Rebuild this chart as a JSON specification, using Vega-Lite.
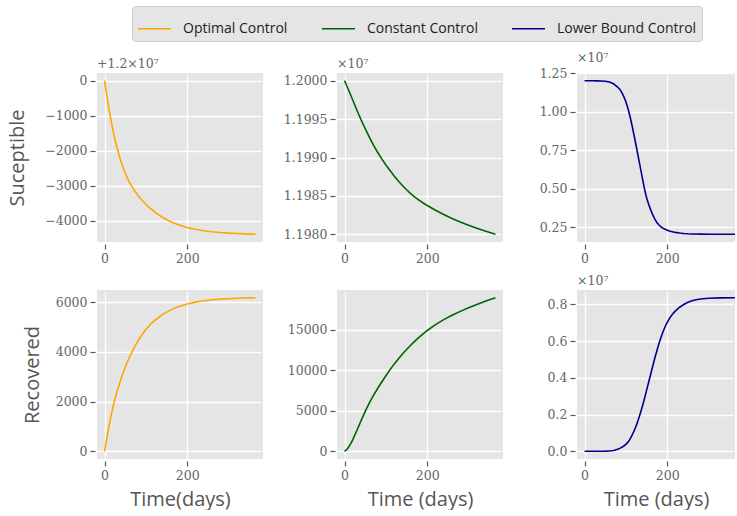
{
  "$schema": "https://vega.github.io/schema/vega-lite/v6.json",
  "padding": {"left": 7, "top": 5, "right": 0, "bottom": 0},
  "data": {"values": [
    {"control": "Optimal Control", "t": 0, "S": 12000000, "R": 0},
    {"control": "Optimal Control", "t": 5, "S": 11999610, "R": 480},
    {"control": "Optimal Control", "t": 10, "S": 11999240, "R": 950},
    {"control": "Optimal Control", "t": 15, "S": 11998910, "R": 1380},
    {"control": "Optimal Control", "t": 20, "S": 11998600, "R": 1750},
    {"control": "Optimal Control", "t": 25, "S": 11998330, "R": 2090},
    {"control": "Optimal Control", "t": 30, "S": 11998090, "R": 2400},
    {"control": "Optimal Control", "t": 40, "S": 11997680, "R": 2920},
    {"control": "Optimal Control", "t": 50, "S": 11997350, "R": 3380},
    {"control": "Optimal Control", "t": 60, "S": 11997100, "R": 3780},
    {"control": "Optimal Control", "t": 70, "S": 11996900, "R": 4120},
    {"control": "Optimal Control", "t": 80, "S": 11996730, "R": 4420},
    {"control": "Optimal Control", "t": 90, "S": 11996590, "R": 4680},
    {"control": "Optimal Control", "t": 100, "S": 11996470, "R": 4900},
    {"control": "Optimal Control", "t": 110, "S": 11996355, "R": 5090},
    {"control": "Optimal Control", "t": 120, "S": 11996255, "R": 5250},
    {"control": "Optimal Control", "t": 140, "S": 11996095, "R": 5500},
    {"control": "Optimal Control", "t": 160, "S": 11995970, "R": 5690},
    {"control": "Optimal Control", "t": 180, "S": 11995875, "R": 5830},
    {"control": "Optimal Control", "t": 200, "S": 11995805, "R": 5925},
    {"control": "Optimal Control", "t": 220, "S": 11995752, "R": 6000},
    {"control": "Optimal Control", "t": 240, "S": 11995712, "R": 6055},
    {"control": "Optimal Control", "t": 260, "S": 11995682, "R": 6095},
    {"control": "Optimal Control", "t": 280, "S": 11995660, "R": 6122},
    {"control": "Optimal Control", "t": 300, "S": 11995644, "R": 6140},
    {"control": "Optimal Control", "t": 320, "S": 11995632, "R": 6158},
    {"control": "Optimal Control", "t": 340, "S": 11995622, "R": 6170},
    {"control": "Optimal Control", "t": 365, "S": 11995612, "R": 6180},
    {"control": "Constant Control", "t": 0, "S": 12000000, "R": 0},
    {"control": "Constant Control", "t": 5, "S": 11999380, "R": 200},
    {"control": "Constant Control", "t": 10, "S": 11998750, "R": 520},
    {"control": "Constant Control", "t": 15, "S": 11998100, "R": 940},
    {"control": "Constant Control", "t": 20, "S": 11997450, "R": 1450},
    {"control": "Constant Control", "t": 25, "S": 11996800, "R": 2020},
    {"control": "Constant Control", "t": 30, "S": 11996150, "R": 2600},
    {"control": "Constant Control", "t": 40, "S": 11994900, "R": 3780},
    {"control": "Constant Control", "t": 50, "S": 11993750, "R": 4930},
    {"control": "Constant Control", "t": 60, "S": 11992650, "R": 5980},
    {"control": "Constant Control", "t": 70, "S": 11991620, "R": 6900},
    {"control": "Constant Control", "t": 80, "S": 11990680, "R": 7750},
    {"control": "Constant Control", "t": 90, "S": 11989820, "R": 8550},
    {"control": "Constant Control", "t": 100, "S": 11989030, "R": 9330},
    {"control": "Constant Control", "t": 110, "S": 11988300, "R": 10080},
    {"control": "Constant Control", "t": 120, "S": 11987600, "R": 10760},
    {"control": "Constant Control", "t": 130, "S": 11986950, "R": 11400},
    {"control": "Constant Control", "t": 140, "S": 11986350, "R": 12000},
    {"control": "Constant Control", "t": 150, "S": 11985800, "R": 12560},
    {"control": "Constant Control", "t": 160, "S": 11985300, "R": 13090},
    {"control": "Constant Control", "t": 170, "S": 11984850, "R": 13590},
    {"control": "Constant Control", "t": 180, "S": 11984440, "R": 14060},
    {"control": "Constant Control", "t": 190, "S": 11984080, "R": 14500},
    {"control": "Constant Control", "t": 200, "S": 11983750, "R": 14910},
    {"control": "Constant Control", "t": 220, "S": 11983130, "R": 15630},
    {"control": "Constant Control", "t": 240, "S": 11982570, "R": 16250},
    {"control": "Constant Control", "t": 260, "S": 11982060, "R": 16790},
    {"control": "Constant Control", "t": 280, "S": 11981600, "R": 17270},
    {"control": "Constant Control", "t": 300, "S": 11981180, "R": 17710},
    {"control": "Constant Control", "t": 320, "S": 11980790, "R": 18120},
    {"control": "Constant Control", "t": 340, "S": 11980430, "R": 18510},
    {"control": "Constant Control", "t": 365, "S": 11980000, "R": 18960},
    {"control": "Lower Bound Control", "t": 0, "S": 12000000, "R": 0},
    {"control": "Lower Bound Control", "t": 10, "S": 11999000, "R": 0},
    {"control": "Lower Bound Control", "t": 20, "S": 11997000, "R": 1000},
    {"control": "Lower Bound Control", "t": 30, "S": 11992000, "R": 2000},
    {"control": "Lower Bound Control", "t": 40, "S": 11983000, "R": 4000},
    {"control": "Lower Bound Control", "t": 50, "S": 11963000, "R": 8000},
    {"control": "Lower Bound Control", "t": 60, "S": 11915000, "R": 18000},
    {"control": "Lower Bound Control", "t": 70, "S": 11800000, "R": 45000},
    {"control": "Lower Bound Control", "t": 80, "S": 11590000, "R": 110000},
    {"control": "Lower Bound Control", "t": 85, "S": 11450000, "R": 160000},
    {"control": "Lower Bound Control", "t": 90, "S": 11240000, "R": 220000},
    {"control": "Lower Bound Control", "t": 95, "S": 10970000, "R": 290000},
    {"control": "Lower Bound Control", "t": 100, "S": 10630000, "R": 380000},
    {"control": "Lower Bound Control", "t": 105, "S": 10200000, "R": 500000},
    {"control": "Lower Bound Control", "t": 110, "S": 9680000, "R": 660000},
    {"control": "Lower Bound Control", "t": 115, "S": 9080000, "R": 880000},
    {"control": "Lower Bound Control", "t": 120, "S": 8430000, "R": 1120000},
    {"control": "Lower Bound Control", "t": 125, "S": 7750000, "R": 1400000},
    {"control": "Lower Bound Control", "t": 130, "S": 7060000, "R": 1720000},
    {"control": "Lower Bound Control", "t": 135, "S": 6360000, "R": 2080000},
    {"control": "Lower Bound Control", "t": 140, "S": 5660000, "R": 2460000},
    {"control": "Lower Bound Control", "t": 145, "S": 4980000, "R": 2880000},
    {"control": "Lower Bound Control", "t": 150, "S": 4400000, "R": 3320000},
    {"control": "Lower Bound Control", "t": 155, "S": 3980000, "R": 3760000},
    {"control": "Lower Bound Control", "t": 160, "S": 3620000, "R": 4200000},
    {"control": "Lower Bound Control", "t": 165, "S": 3300000, "R": 4650000},
    {"control": "Lower Bound Control", "t": 170, "S": 3020000, "R": 5080000},
    {"control": "Lower Bound Control", "t": 175, "S": 2800000, "R": 5480000},
    {"control": "Lower Bound Control", "t": 180, "S": 2640000, "R": 5870000},
    {"control": "Lower Bound Control", "t": 185, "S": 2520000, "R": 6220000},
    {"control": "Lower Bound Control", "t": 190, "S": 2430000, "R": 6530000},
    {"control": "Lower Bound Control", "t": 195, "S": 2360000, "R": 6800000},
    {"control": "Lower Bound Control", "t": 200, "S": 2300000, "R": 7030000},
    {"control": "Lower Bound Control", "t": 205, "S": 2255000, "R": 7220000},
    {"control": "Lower Bound Control", "t": 210, "S": 2215000, "R": 7390000},
    {"control": "Lower Bound Control", "t": 215, "S": 2185000, "R": 7530000},
    {"control": "Lower Bound Control", "t": 220, "S": 2160000, "R": 7650000},
    {"control": "Lower Bound Control", "t": 230, "S": 2120000, "R": 7850000},
    {"control": "Lower Bound Control", "t": 240, "S": 2090000, "R": 8000000},
    {"control": "Lower Bound Control", "t": 250, "S": 2072000, "R": 8120000},
    {"control": "Lower Bound Control", "t": 260, "S": 2060000, "R": 8200000},
    {"control": "Lower Bound Control", "t": 270, "S": 2053000, "R": 8260000},
    {"control": "Lower Bound Control", "t": 280, "S": 2048000, "R": 8300000},
    {"control": "Lower Bound Control", "t": 300, "S": 2042000, "R": 8340000},
    {"control": "Lower Bound Control", "t": 330, "S": 2037000, "R": 8360000},
    {"control": "Lower Bound Control", "t": 365, "S": 2035000, "R": 8370000}
  ]},
  "concat": [
    {
      "width": 166, "height": 169,
      "title": {"text": "+1.2×10⁷"},
      "transform": [{"filter": "datum.control === 'Optimal Control'"}],
      "mark": {"type": "line", "strokeWidth": 1.6},
      "encoding": {
        "x": {"field": "t", "type": "quantitative", "scale": {"domain": [-18.25, 383.25], "nice": false, "zero": false}, "axis": {"values": [0, 200], "title": null}},
        "y": {"field": "S", "type": "quantitative", "scale": {"domain": [11995390, 12000220], "nice": false, "zero": false}, "axis": {"values": [11996000, 11997000, 11998000, 11999000, 12000000], "labelExpr": "format(datum.value - 12000000, 'd')", "title": "Suceptible", "titlePadding": 17}},
        "color": {"field": "control", "type": "nominal", "scale": {"domain": ["Optimal Control", "Constant Control", "Lower Bound Control"], "range": ["#FFA500", "#006400", "#00008B"]}, "legend": {"title": null}}
      }
    },
    {
      "width": 166, "height": 169,
      "title": {"text": "×10⁷"},
      "transform": [{"filter": "datum.control === 'Constant Control'"}],
      "mark": {"type": "line", "strokeWidth": 1.6},
      "encoding": {
        "x": {"field": "t", "type": "quantitative", "scale": {"domain": [-18.25, 383.25], "nice": false, "zero": false}, "axis": {"values": [0, 200], "title": null}},
        "y": {"field": "S", "type": "quantitative", "scale": {"domain": [11979000, 12001000], "nice": false, "zero": false}, "axis": {"values": [11980000, 11985000, 11990000, 11995000, 12000000], "labelExpr": "format(datum.value / 10000000, '.4f')", "title": null}},
        "color": {"field": "control", "type": "nominal", "scale": {"domain": ["Optimal Control", "Constant Control", "Lower Bound Control"], "range": ["#FFA500", "#006400", "#00008B"]}, "legend": {"title": null}}
      }
    },
    {
      "width": 158, "height": 169,
      "title": {"text": "×10⁷"},
      "transform": [{"filter": "datum.control === 'Lower Bound Control'"}],
      "mark": {"type": "line", "strokeWidth": 1.6, "clip": true},
      "encoding": {
        "x": {"field": "t", "type": "quantitative", "scale": {"domain": [-18.25, 363.9], "nice": false, "zero": false}, "axis": {"values": [0, 200], "title": null}},
        "y": {"field": "S", "type": "quantitative", "scale": {"domain": [1536750, 12500000], "nice": false, "zero": false}, "axis": {"values": [2500000, 5000000, 7500000, 10000000, 12500000], "labelExpr": "format(datum.value / 10000000, '.2f')", "title": null}},
        "color": {"field": "control", "type": "nominal", "scale": {"domain": ["Optimal Control", "Constant Control", "Lower Bound Control"], "range": ["#FFA500", "#006400", "#00008B"]}, "legend": {"title": null}}
      }
    },
    {
      "width": 166, "height": 169,
      "transform": [{"filter": "datum.control === 'Optimal Control'"}],
      "mark": {"type": "line", "strokeWidth": 1.6},
      "encoding": {
        "x": {"field": "t", "type": "quantitative", "scale": {"domain": [-18.25, 383.25], "nice": false, "zero": false}, "axis": {"values": [0, 200], "title": "Time(days)", "titlePadding": 8}},
        "y": {"field": "R", "type": "quantitative", "scale": {"domain": [-309, 6489], "nice": false, "zero": false}, "axis": {"values": [0, 2000, 4000, 6000], "format": "d", "title": "Recovered", "titlePadding": 13}},
        "color": {"field": "control", "type": "nominal", "scale": {"domain": ["Optimal Control", "Constant Control", "Lower Bound Control"], "range": ["#FFA500", "#006400", "#00008B"]}, "legend": {"title": null}}
      }
    },
    {
      "width": 166, "height": 169,
      "transform": [{"filter": "datum.control === 'Constant Control'"}],
      "mark": {"type": "line", "strokeWidth": 1.6},
      "encoding": {
        "x": {"field": "t", "type": "quantitative", "scale": {"domain": [-18.25, 383.25], "nice": false, "zero": false}, "axis": {"values": [0, 200], "title": "Time (days)", "titlePadding": 8}},
        "y": {"field": "R", "type": "quantitative", "scale": {"domain": [-948, 19908], "nice": false, "zero": false}, "axis": {"values": [0, 5000, 10000, 15000], "format": "d", "title": null}},
        "color": {"field": "control", "type": "nominal", "scale": {"domain": ["Optimal Control", "Constant Control", "Lower Bound Control"], "range": ["#FFA500", "#006400", "#00008B"]}, "legend": {"title": null}}
      }
    },
    {
      "width": 158, "height": 169,
      "title": {"text": "×10⁷"},
      "transform": [{"filter": "datum.control === 'Lower Bound Control'"}],
      "mark": {"type": "line", "strokeWidth": 1.6, "clip": true},
      "encoding": {
        "x": {"field": "t", "type": "quantitative", "scale": {"domain": [-18.25, 363.9], "nice": false, "zero": false}, "axis": {"values": [0, 200], "title": "Time (days)", "titlePadding": 8}},
        "y": {"field": "R", "type": "quantitative", "scale": {"domain": [-418500, 8788500], "nice": false, "zero": false}, "axis": {"values": [0, 2000000, 4000000, 6000000, 8000000], "labelExpr": "format(datum.value / 10000000, '.1f')", "title": null}},
        "color": {"field": "control", "type": "nominal", "scale": {"domain": ["Optimal Control", "Constant Control", "Lower Bound Control"], "range": ["#FFA500", "#006400", "#00008B"]}, "legend": {"title": null}}
      }
    }
  ],
  "columns": 3,
  "spacing": {"row": 48, "column": 74},
  "bounds": "flush",
  "config": {
    "view": {"stroke": null, "fill": "#e5e5e5"},
    "axis": {"domain": false, "grid": true, "gridColor": "#ffffff", "gridWidth": 1.3, "tickColor": "#555555", "tickSize": 5, "tickWidth": 1.2, "offset": 2, "labelPadding": 3, "labelFont": "DejaVu Serif", "labelFontSize": 12.5, "labelColor": "#666666", "titleFont": "Open Sans", "titleFontSize": 20, "titleFontWeight": "normal", "titleColor": "#555555"},
    "title": {"anchor": "start", "frame": "group", "font": "DejaVu Serif", "fontSize": 12.5, "fontWeight": "normal", "color": "#666666", "offset": 3},
    "legend": {"orient": "none", "legendX": 35, "legendY": -67, "direction": "horizontal", "fillColor": "#e5e5e5", "strokeColor": "#cccccc", "cornerRadius": 3, "padding": 5, "symbolType": "stroke", "symbolSize": 1089, "symbolStrokeWidth": 1.6, "labelFont": "Open Sans", "labelFontSize": 14, "labelColor": "#222222", "labelOffset": 11, "columnPadding": 30}
  }
}
